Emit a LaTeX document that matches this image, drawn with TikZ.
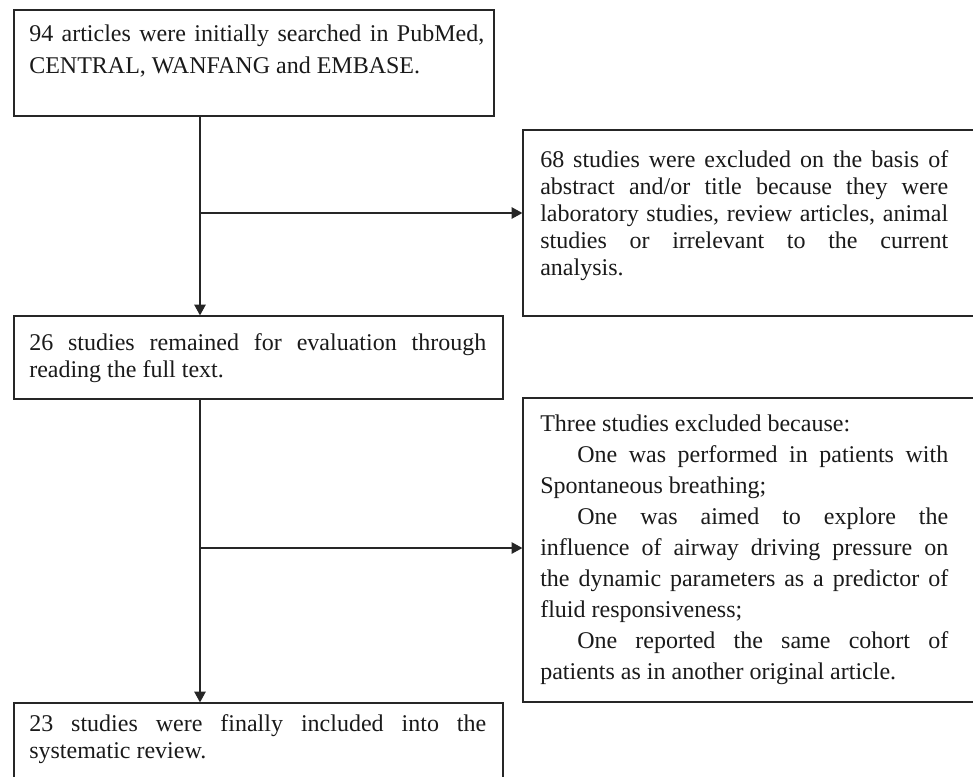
\documentclass[tikz,border=0pt]{standalone}
\usepackage{fontspec}
\setmainfont{Liberation Serif}
\usetikzlibrary{fit,arrows.meta}
\definecolor{ln}{HTML}{262626}
\definecolor{tx}{HTML}{1A1A1A}
\tikzset{
  box/.style={draw=ln, line width=0.95pt, inner sep=0pt, rectangle},
  txt/.style={anchor=north west, inner sep=0pt, align=justify, text=tx},
  arr/.style={draw=ln, line width=0.95pt, -{Triangle[length=8pt,width=8.5pt]}}
}
\begin{document}
\begin{tikzpicture}[x=0.75pt,y=-0.75pt]
\useasboundingbox (0,0) rectangle (973,776);
\fill[white] (0,0) rectangle (973,776);
\clip (0,0) rectangle (973,776);
% boxes
\node[box, fit={(14,10) (494,116)}] (b1) {};
\node[box, fit={(523,130) (1000,316)}] (b2) {};
\node[box, fit={(14,316) (503,399)}] (b3) {};
\node[box, fit={(523,398) (1000,702)}] (b4) {};
\node[box, fit={(14,703) (503,820)}] (b5) {};
% texts
\node[txt, text width=341.25pt, font=\fontsize{18}{23.75}\selectfont] (t1) at (29,25)
  {94 articles were initially searched in PubMed,\linebreak CENTRAL, WANFANG and EMBASE.};
\node[txt, text width=306pt, font=\fontsize{18}{20.25}\selectfont] (t2) at (540,150)
  {68 studies were excluded on the basis of\linebreak abstract and/or title because they were\linebreak laboratory studies, review articles, animal\linebreak studies or irrelevant to the current\linebreak analysis.};
\node[txt, text width=342.75pt, font=\fontsize{18}{20.25}\selectfont] (t3) at (29,333)
  {26 studies remained for evaluation through\linebreak reading the full text.};
\node[txt, text width=306pt, font=\fontsize{18}{23.25}\selectfont] (t4) at (540,415)
  {\parskip=0pt Three studies excluded because:\par
   \hspace*{27.75pt}One was performed in patients with\linebreak Spontaneous breathing;\par
   \hspace*{27.75pt}One was aimed to explore the\linebreak influence of airway driving pressure on\linebreak the dynamic parameters as a predictor of\linebreak fluid responsiveness;\par
   \hspace*{27.75pt}One reported the same cohort of\linebreak patients as in another original article.};
\node[txt, text width=342.75pt, font=\fontsize{18}{20.25}\selectfont] (t5) at (29,714)
  {23 studies were finally included into the\linebreak systematic review.};
% connectors
\coordinate (c1) at (200,213);
\coordinate (c2) at (200,548);
\draw[arr] (b1.south -| c1) -- (b3.north -| c1);
\draw[arr] (c1) -- (c1 -| b2.west);
\draw[arr] (b3.south -| c2) -- (b5.north -| c2);
\draw[arr] (c2) -- (c2 -| b4.west);
\end{tikzpicture}
\end{document}
